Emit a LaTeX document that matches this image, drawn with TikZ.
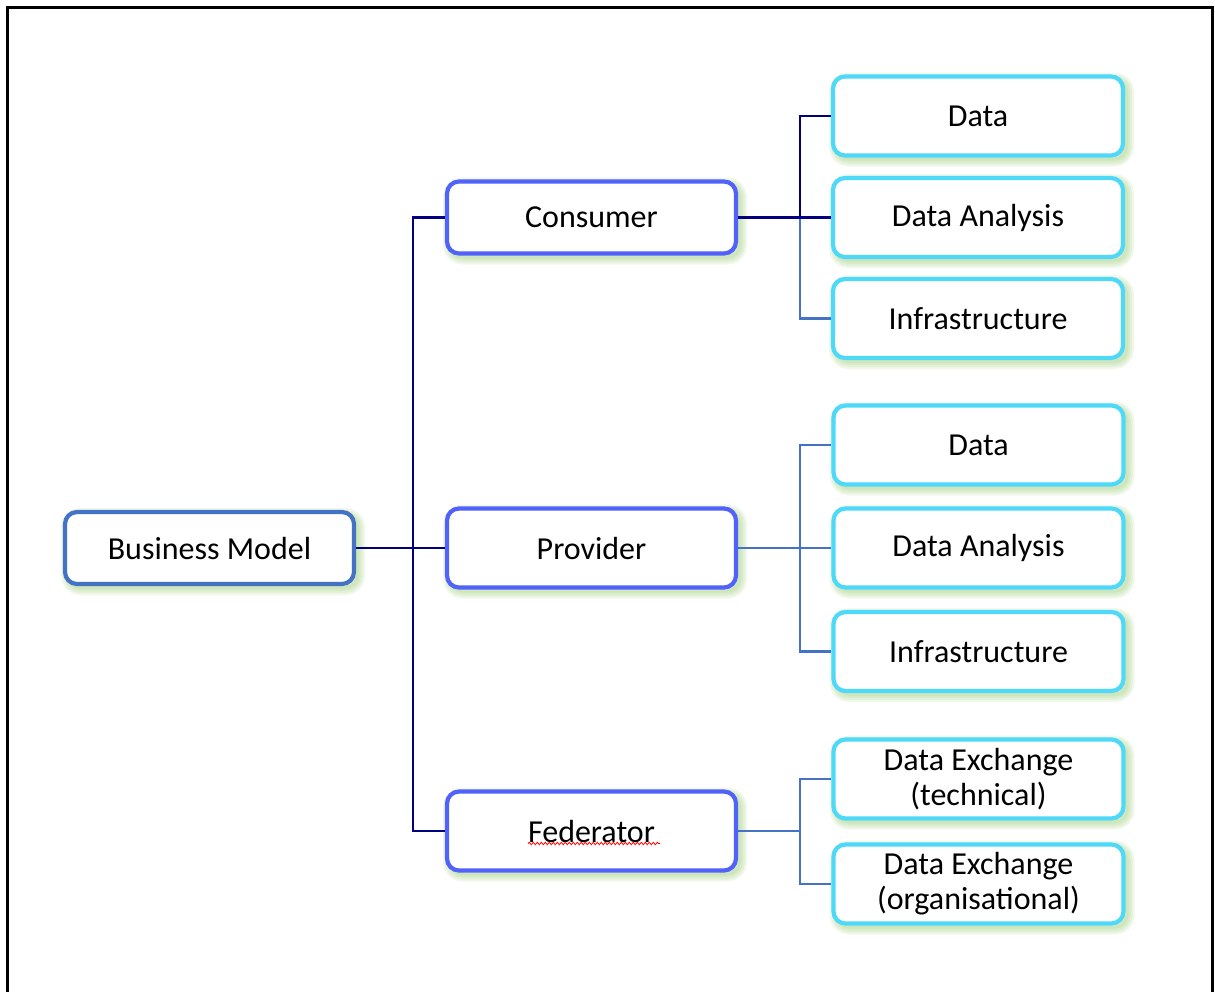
\documentclass[tikz,border=0pt]{standalone}
\usepackage{fontspec}
\setmainfont{Carlito}
\usetikzlibrary{decorations.pathmorphing}
\definecolor{navyline}{RGB}{0,0,128}
\definecolor{steelline}{RGB}{68,114,196}
\definecolor{bmblue}{RGB}{68,114,196}
\definecolor{midblue}{RGB}{80,98,250}
\definecolor{leafcyan}{RGB}{77,217,247}
\definecolor{glow}{RGB}{150,200,110}
\tikzset{
  glowlayer/.style={preaction={draw=glow, fill=none, line width=#1, draw opacity=0.14,
      transform canvas={shift={(3.5pt,-3.5pt)}}}},
  box/.style={fill=white, line width=4.2pt, rounded corners=12pt,
    minimum width=289pt, align=center, inner sep=0pt,
    font=\fontsize{32pt}{35pt}\selectfont, text=black,
    glowlayer=15pt, glowlayer=11pt, glowlayer=7pt, glowlayer=3pt},
  rootbox/.style={box, draw=bmblue, minimum height=72pt},
  midbox/.style={box, draw=midblue},
  leafbox/.style={box, draw=leafcyan, minimum width=290pt, minimum height=79pt},
  navyconn/.style={draw=navyline, line width=2.8pt},
  steelconn/.style={draw=steelline, line width=2.8pt},
}
\begin{document}
\begin{tikzpicture}[x=1pt, y=-1pt]
\useasboundingbox (0,0) rectangle (1215,991);
% frame
\draw[line width=3pt, black] (7,1000) -- (7,7) -- (1212,7) -- (1212,1000);

% coordinates for junctions
\coordinate (trunk) at (413,548);
\coordinate (cb) at (800,217.5);
\coordinate (pb) at (800,548);
\coordinate (fb) at (800,831);

% nodes
\node[rootbox] (bm) at (209.5,548) {Business Model};
\node[midbox, minimum height=72pt] (con) at (591.5,217.5) {Consumer};
\node[midbox, minimum height=79pt] (pro) at (591.5,548) {Provider};
\node[midbox, minimum height=79pt] (fed) at (591.5,831) {Federator};

\node[leafbox] (c1) at (978,116) {Data};
\node[leafbox] (c2) at (978,217.5) {Data Analysis};
\node[leafbox] (c3) at (978,318.5) {Infrastructure};
\node[leafbox] (p1) at (978.5,445) {Data};
\node[leafbox] (p2) at (978.5,548) {Data Analysis};
\node[leafbox] (p3) at (978.5,651.5) {Infrastructure};
\node[leafbox] (f1) at (978.5,779) {Data Exchange\\(technical)};
\node[leafbox] (f2) at (978.5,884) {Data Exchange\\(organisational)};

% spell-check squiggle
\coordinate (sqa) at (528,843.5);
\coordinate (sqb) at (660,843.5);
\draw[red, line width=0.8pt, decorate, decoration={snake, amplitude=1.2pt, segment length=4pt}] (sqa) -- (sqb);

% connectors
\draw[navyconn] (bm.east) -- (trunk);
\draw[navyconn] (trunk) |- (con.west);
\draw[navyconn] (trunk) -- (pro.west);
\draw[navyconn] (trunk) |- (fed.west);

\draw[steelconn] (cb) |- (c3.west);
\draw[navyconn] (con.east) -- (cb) |- (c1.west);
\draw[navyconn] (cb) -- (c2.west);

\draw[steelconn] (pro.east) -- (pb);
\draw[steelconn] (pb) |- (p1.west);
\draw[steelconn] (pb) -- (p2.west);
\draw[steelconn] (pb) |- (p3.west);

\draw[steelconn] (fed.east) -- (fb);
\draw[steelconn] (fb) |- (f1.west);
\draw[steelconn] (fb) |- (f2.west);
\end{tikzpicture}
\end{document}
